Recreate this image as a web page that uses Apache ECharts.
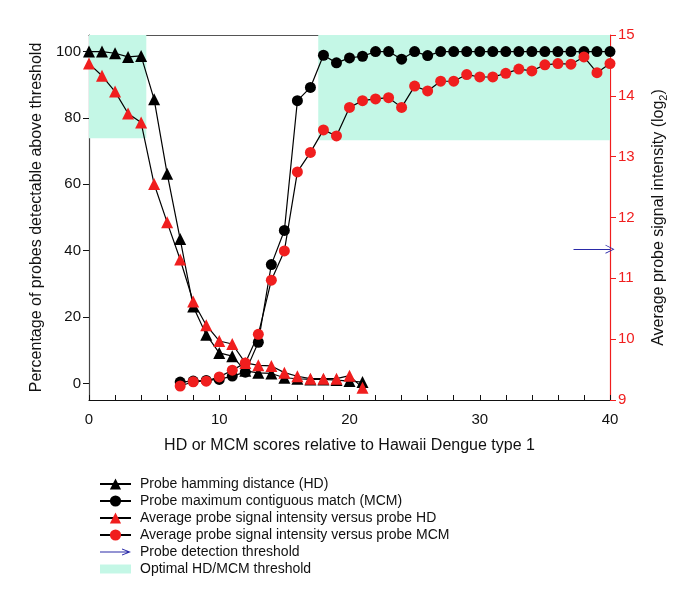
<!DOCTYPE html>
<html><head><meta charset="utf-8">
<script src="https://cdn.jsdelivr.net/npm/echarts@6/dist/echarts.min.js"></script>
<style>html,body{margin:0;padding:0;background:#fff}#c{width:685px;height:597px}</style>
</head><body><div id="c"></div>
<script>
// ---- data ----
var xHD = [0,1,2,3,4,5,6,7,8,9,10,11,12,13,14,15,16,17,18,19,20,21];
var hdPercent = [100,100,99.5,98.4,98.7,85.6,63.2,43.5,23.2,14.7,9.2,8.2,3.8,3.2,3.0,1.7,1.4,1.2,1.2,1.0,0.7,0.4];
var hdSignal = [14.53,14.33,14.07,13.71,13.56,12.55,11.92,11.31,10.62,10.23,9.97,9.92,9.61,9.57,9.56,9.45,9.39,9.35,9.35,9.35,9.40,9.20];
var xMCM = [7,8,9,10,11,12,13,14,15,16,17,18,19,20,21,22,23,24,25,26,27,28,29,30,31,32,33,34,35,36,37,38,39,40];
var mcmPercent = [0.4,0.7,0.9,1.2,2.2,3.4,12.4,35.8,46.1,85.2,89.2,98.9,96.6,98.1,98.6,100,100,97.7,100,98.8,100,100,100,100,100,100,100,100,100,100,100,100,100,100];
var mcmSignal = [9.23,9.30,9.31,9.38,9.49,9.61,10.08,10.97,11.45,12.75,13.07,13.44,13.34,13.81,13.92,13.95,13.97,13.81,14.16,14.08,14.24,14.24,14.35,14.31,14.31,14.37,14.44,14.41,14.51,14.53,14.52,14.64,14.38,14.53];
var detectionThreshold = 11.48;
var thresholdArrowX = [37.2, 40];
var optimalRegions = [ {x: [0, 4.4], y: [73.9, 105]}, {x: [17.6, 40], y: [73.3, 105]} ];
var leftTicks = [0,20,40,60,80,100];
var xLabels = [0,10,20,30,40];
var seriesNames = ['Probe hamming distance (HD)','Probe maximum contiguous match (MCM)','Average probe signal intensity versus probe HD','Average probe signal intensity versus probe MCM','Probe detection threshold','Optimal HD/MCM threshold'];

function pairs(xs, ys){ return xs.map(function(x,i){ return [x, ys[i]]; }); }

var FONT = '"Liberation Sans", Arial, Helvetica, sans-serif';
var RED = '#f01e1e';
var AQUA = '#c4f7e6';
var BLUE = '#2a2aa8';

var chart = echarts.init(document.getElementById('c'));
var lineStyle = {color:'#000', width:1.2};
chart.setOption({
  animation:false,
  textStyle:{fontFamily:FONT},
  grid:{left:89, right:75, top:35, bottom:197},
  xAxis:[{
    type:'value', min:0, max:40, interval:2,
    axisLine:{onZero:false, lineStyle:{color:'#111', width:1.2}},
    axisTick:{inside:true, length:5, lineStyle:{color:'#111'}},
    axisLabel:{fontSize:15, color:'#111', margin:12, customValues:xLabels},
    splitLine:{show:false},
    name:'HD or MCM scores relative to Hawaii Dengue type 1', nameLocation:'middle', nameGap:38,
    nameTextStyle:{fontSize:16, color:'#111'}
  },{
    type:'value', min:0, max:40, position:'top',
    axisLine:{onZero:false, lineStyle:{color:'#555', width:1.2}},
    axisTick:{show:false}, axisLabel:{show:false}, splitLine:{show:false}
  }],
  yAxis:[{
    type:'value', min:-5, max:105,
    axisLine:{show:true, onZero:false, lineStyle:{color:'#444', width:1.2}},
    axisTick:{show:true, length:6, customValues:leftTicks, lineStyle:{color:'#111'}},
    axisLabel:{fontSize:15, color:'#111', margin:8, customValues:leftTicks},
    splitLine:{show:false},
    name:'Percentage of probes detectable above threshold', nameLocation:'middle', nameGap:40,
    nameRotate:90, nameTextStyle:{fontSize:16, color:'#111'}
  },{
    type:'value', min:9, max:15, interval:1, position:'right',
    axisLine:{show:true, onZero:false, lineStyle:{color:RED, width:1.2}},
    axisTick:{show:true, length:6, lineStyle:{color:RED}},
    axisLabel:{fontSize:15, color:RED, margin:8},
    splitLine:{show:false},
    name:'Average probe signal intensity (log{s|2})', nameLocation:'middle', nameGap:38,
    nameRotate:90,
    nameTextStyle:{fontSize:16, color:'#111', rich:{s:{fontSize:11, color:'#111', verticalAlign:'bottom', padding:[10,0,0,0]}}}
  }],
  legend:{
    orient:'vertical', left:99, top:477, padding:0, itemWidth:31, itemHeight:14, itemGap:3,
    textStyle:{fontSize:14, color:'#111', padding:[0,0,0,4]},
    data:[
      {name:seriesNames[0]},
      {name:seriesNames[1]},
      {name:seriesNames[2]},
      {name:seriesNames[3]},
      {name:seriesNames[4], icon:'path://M0,0 M31,14 M0,6.5 L29,6.5 L29,7.5 L0,7.5 Z M22,3.5 L31,7 L22,10.5 L22,9.5 L28.5,7 L22,4.5 Z', itemStyle:{color:BLUE}},
      {name:seriesNames[5], icon:'path://M0,0 M31,14 M0,2.5 L31,2.5 L31,11.5 L0,11.5 Z', itemStyle:{color:AQUA}}
    ]
  },
  series:[
    {
      name:seriesNames[5], type:'line', data:[], xAxisIndex:0, yAxisIndex:0, z:0,
      itemStyle:{color:AQUA}, lineStyle:{color:AQUA},
      markArea:{silent:true, itemStyle:{color:AQUA},
        data: optimalRegions.map(function(r){ return [{coord:[r.x[0], r.y[0]]},{coord:[r.x[1], r.y[1]]}]; })
      }
    },
    {
      name:seriesNames[0], type:'line', yAxisIndex:0, data:pairs(xHD, hdPercent),
      symbol:'triangle', symbolSize:12, clip:false, z:3,
      itemStyle:{color:'#000'}, lineStyle:lineStyle
    },
    {
      name:seriesNames[1], type:'line', yAxisIndex:0, data:pairs(xMCM, mcmPercent),
      symbol:'circle', symbolSize:11, clip:false, z:3,
      itemStyle:{color:'#000'}, lineStyle:lineStyle
    },
    {
      name:seriesNames[2], type:'line', yAxisIndex:1, data:pairs(xHD, hdSignal),
      symbol:'triangle', symbolSize:12, clip:false, z:4,
      itemStyle:{color:RED}, lineStyle:lineStyle
    },
    {
      name:seriesNames[3], type:'line', yAxisIndex:1, data:pairs(xMCM, mcmSignal),
      symbol:'circle', symbolSize:11, clip:false, z:4,
      itemStyle:{color:RED}, lineStyle:lineStyle
    },
    {
      name:seriesNames[4], type:'line', yAxisIndex:1, data:[], z:5,
      itemStyle:{color:BLUE}, lineStyle:{color:BLUE},
      markLine:{silent:true, symbol:['none','path://M0,10 L5,0 L10,10 L9,10 L5,2 L1,10 Z'], symbolSize:[9,9],
        lineStyle:{color:BLUE, width:1, type:'solid'}, label:{show:false},
        data:[[{coord:[thresholdArrowX[0], detectionThreshold]},{coord:[thresholdArrowX[1], detectionThreshold]}]]
      }
    }
  ]
});
</script></body></html>
